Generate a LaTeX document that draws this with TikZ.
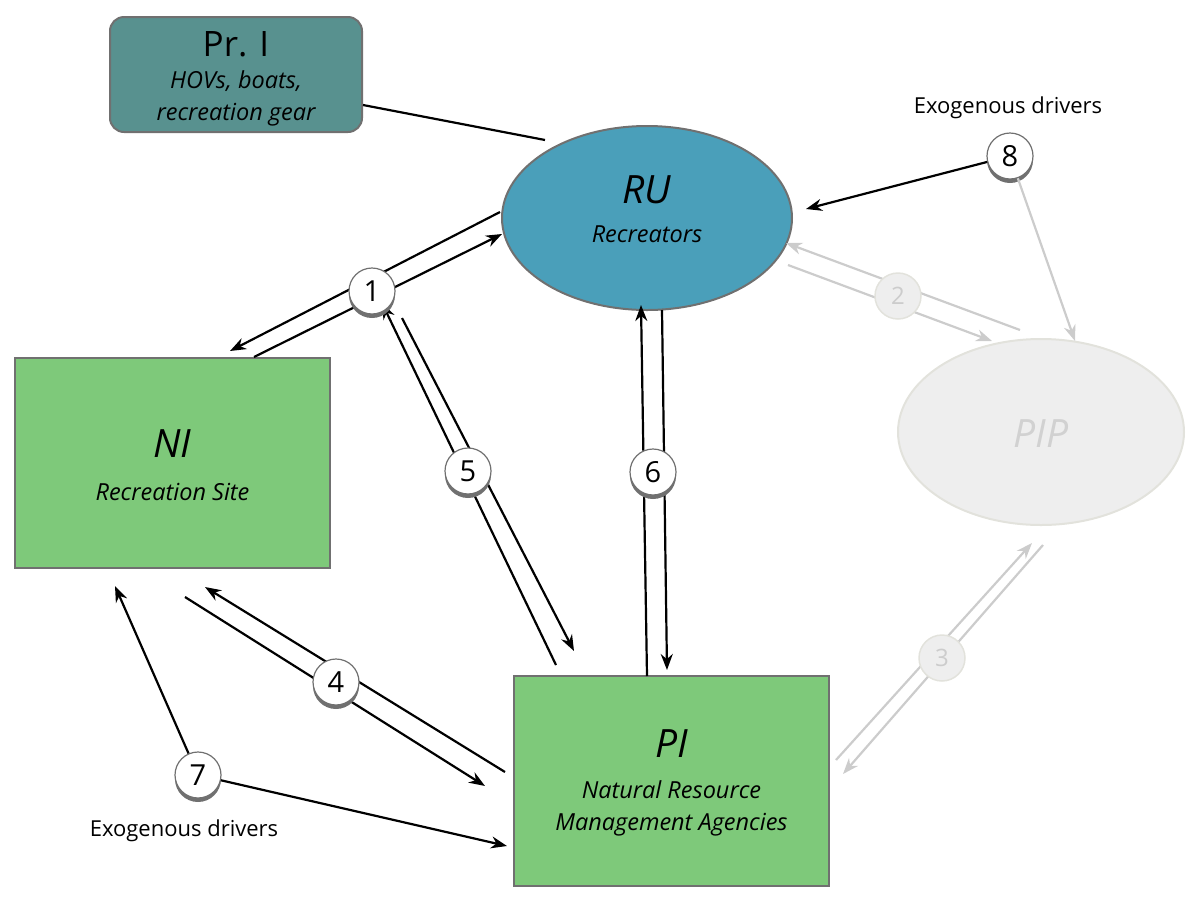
\documentclass[tikz,border=0pt]{standalone}
\usepackage{fontspec}
\setmainfont{Open Sans}
\usetikzlibrary{arrows.meta,shapes.geometric,shadows}
\definecolor{prfill}{HTML}{58918F}
\definecolor{rufill}{HTML}{4A9FBA}
\definecolor{grfill}{HTML}{7EC97A}
\definecolor{bord}{HTML}{707070}
\definecolor{ghost}{HTML}{CCCCCC}
\definecolor{ghostfill}{HTML}{EEEEEE}
\definecolor{ghostbord}{HTML}{E2E2DC}
\tikzset{
  box/.style={draw=bord, line width=2pt, fill=grfill, minimum width=315pt, minimum height=210pt, align=center, inner sep=0pt},
  marker/.style={circle, draw=bord, line width=1.2pt, fill=white, minimum size=46pt, inner sep=0pt, font=\fontsize{29}{30}\selectfont,
    drop shadow={shadow xshift=0pt, shadow yshift=-4pt, fill=bord, opacity=1}},
  gmarker/.style={circle, draw=ghostbord, line width=1.5pt, fill=ghostfill, minimum size=46pt, inner sep=0pt, text=ghost, font=\fontsize{24}{26}\selectfont},
  conn/.style={line width=2.2pt, black},
  arr/.style={conn, -{Stealth[length=16pt,width=12pt]}},
  gconn/.style={line width=2.2pt, ghost},
  garr/.style={gconn, -{Stealth[length=16pt,width=12pt]}},
  big/.style={font=\fontsize{39}{44}\selectfont\itshape},
  small/.style={font=\fontsize{23.5}{32}\selectfont\itshape},
  lab/.style={font=\fontsize{22}{26}\selectfont}
}
\begin{document}
\begin{tikzpicture}[x=1pt,y=-1pt]
\useasboundingbox (0,0) rectangle (1200,903);
% nodes
\node[draw=bord, line width=2pt, fill=prfill, rounded corners=14pt, minimum width=252pt, minimum height=115pt, inner sep=0pt] (pr) at (236,74.5) {};
\node[font=\fontsize{35}{40}\selectfont] (prt) at (236,44) {Pr. I};
\node[small, align=center] (prs) at (236,98) {HOVs, boats,\\recreation gear};
\node[ellipse, draw=bord, line width=2pt, fill=rufill, minimum width=290pt, minimum height=184pt, inner sep=0pt] (ru) at (647,218) {};
\node[big] (rut) at (647,190) {RU};
\node[small] (rus) at (647,234) {Recreators};
\node[ellipse, draw=ghostbord, line width=2pt, fill=ghostfill, minimum width=286pt, minimum height=186pt, inner sep=0pt] (pip) at (1041,432) {};
\node[big, text=ghost!90!white] (pipt) at (1041,434) {PIP};
\node[box] (ni) at (172.5,463) {};
\node[big] (nit) at (172.5,444) {NI};
\node[small] (nis) at (172.5,492) {Recreation Site};
\node[box] (pi) at (671.5,781) {};
\node[big] (pit) at (671.5,744) {PI};
\node[small, align=center] (pis) at (671.5,808) {Natural Resource\\Management Agencies};
\node[lab] (ex8) at (1008,108) {Exogenous drivers};
\node[lab] (ex7) at (184,831) {Exogenous drivers};
% coordinates
\coordinate (a1s) at (254,357); \coordinate (a1e) at (502,234);
\coordinate (b1s) at (500,212); \coordinate (b1e) at (230,351);
\coordinate (a5s) at (556,665); \coordinate (a5e) at (382,303);
\coordinate (b5s) at (402,318); \coordinate (b5e) at (574,651);
\coordinate (a6s) at (647,676); \coordinate (a6e) at (641,305);
\coordinate (b6s) at (662,310); \coordinate (b6e) at (667,670);
\coordinate (a4s) at (505,772); \coordinate (a4e) at (205,587);
\coordinate (b4s) at (185,597); \coordinate (b4e) at (485,786);
\coordinate (a7e) at (115,586); \coordinate (b7e) at (507,846);
\coordinate (a8e) at (806,209); \coordinate (b8e) at (1075,341);
\coordinate (a2s) at (1020,330); \coordinate (a2e) at (786,243);
\coordinate (b2s) at (788,265); \coordinate (b2e) at (992,341);
\coordinate (a3s) at (836,760); \coordinate (a3e) at (1032,543);
\coordinate (b3s) at (1043,545); \coordinate (b3e) at (843,774);
\coordinate (pre) at (545,140);
% connectors
\draw[conn] (pr.east |- 0,105) -- (pre);
\draw[arr] (a1s) -- (a1e);
\draw[arr] (b1s) -- (b1e);
\draw[arr] (a5s) -- (a5e);
\draw[arr] (b5s) -- (b5e);
\draw[arr] (a6s) -- (a6e);
\draw[arr] (b6s) -- (b6e);
\draw[arr] (a4s) -- (a4e);
\draw[arr] (b4s) -- (b4e);
\draw[garr] (a2s) -- (a2e);
\draw[garr] (b2s) -- (b2e);
\draw[garr] (a3s) -- (a3e);
\draw[garr] (b3s) -- (b3e);
% markers
\node[marker] (c1) at (372,291) {1};
\node[marker] (c5) at (468,471) {5};
\node[marker] (c6) at (653,472) {6};
\node[marker] (c4) at (336,682) {4};
\node[marker] (c7) at (198,775) {7};
\node[marker] (c8) at (1010,156) {8};
\node[gmarker] (c2) at (898,296) {2};
\node[gmarker] (c3) at (942,658) {3};
\draw[arr] (c7) -- (a7e);
\draw[arr] (c7) -- (b7e);
\draw[arr] (c8) -- (a8e);
\draw[garr] (c8) -- (b8e);
\end{tikzpicture}
\end{document}
